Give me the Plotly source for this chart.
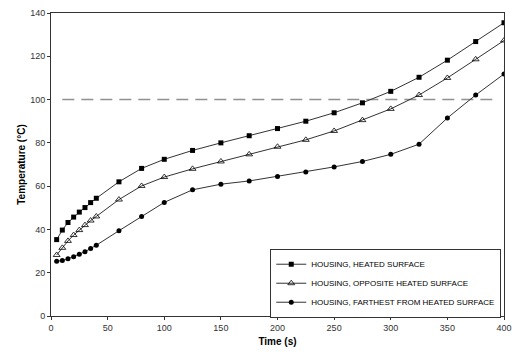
import plotly.graph_objects as go

time_s = [5, 10, 15, 20, 25, 30, 35, 40, 60, 80, 100, 125, 150, 175, 200, 225, 250, 275, 300, 325, 350, 375, 400]
heated = [35.3, 39.7, 43.2, 45.7, 48.0, 50.1, 52.4, 54.4, 62.0, 68.2, 72.4, 76.5, 80.0, 83.3, 86.6, 90.0, 93.9, 98.5, 103.8, 110.3, 118.2, 126.8, 135.5]
opposite = [28.2, 31.5, 34.7, 37.4, 39.7, 42.0, 44.1, 46.0, 53.8, 60.1, 64.2, 68.0, 71.4, 74.7, 78.2, 81.4, 85.5, 90.5, 95.7, 102.1, 110.0, 118.6, 127.3]
farthest = [25.3, 25.6, 26.4, 27.4, 28.5, 29.7, 31.2, 32.7, 39.4, 46.0, 52.5, 58.3, 60.9, 62.4, 64.5, 66.5, 68.9, 71.4, 74.7, 79.4, 91.5, 102.1, 111.8]
limit_x = [10, 395]
limit_y = [100, 100]

names = ["HOUSING, HEATED SURFACE", "HOUSING, OPPOSITE HEATED SURFACE", "HOUSING, FARTHEST FROM HEATED SURFACE"]

fig = go.Figure()
fig.add_trace(go.Scatter(x=limit_x, y=limit_y, mode="lines", showlegend=False,
                         line=dict(color="#909090", width=1.5, dash="12px,7px")))
line_style = dict(color="#333333", width=1)
fig.add_trace(go.Scatter(x=time_s, y=heated, mode="lines+markers", name=names[0], line=line_style,
                         marker=dict(symbol="square", size=5, color="black")))
fig.add_trace(go.Scatter(x=time_s, y=opposite, mode="lines+markers", name=names[1], line=line_style,
                         marker=dict(symbol="triangle-up-open", size=6, color="black", line=dict(width=0.8))))
fig.add_trace(go.Scatter(x=time_s, y=farthest, mode="lines+markers", name=names[2], line=line_style,
                         marker=dict(symbol="circle", size=5, color="black")))

axis_common = dict(showgrid=False, zeroline=False, showline=True, linecolor="#333333", linewidth=1,
                   ticks="outside", ticklen=3, tickcolor="#333333", mirror=True,
                   tickfont=dict(family="Liberation Sans, Arial", size=9, color="#333333"))
fig.update_xaxes(range=[0, 400], tickvals=[0, 50, 100, 150, 200, 250, 300, 350, 400],
                 title=dict(text="<b>Time (s)</b>", font=dict(family="Liberation Sans, Arial", size=10, color="black"), standoff=6),
                 **axis_common)
fig.update_yaxes(range=[0, 140], tickvals=[0, 20, 40, 60, 80, 100, 120, 140],
                 title=dict(text="<b>Temperature (°C)</b>", font=dict(family="Liberation Sans, Arial", size=10, color="black"), standoff=2),
                 **axis_common)
fig.update_layout(
    width=520, height=354,
    margin=dict(l=51, r=8, t=11, b=35),
    plot_bgcolor="white", paper_bgcolor="white",
    legend=dict(x=0.484, y=0.222, xanchor="left", yanchor="top", bgcolor="white",
                bordercolor="#333333", borderwidth=1, itemwidth=30, tracegroupgap=0,
                font=dict(family="Liberation Sans, Arial", size=8, color="black")),
)
fig.write_html("out.html")
